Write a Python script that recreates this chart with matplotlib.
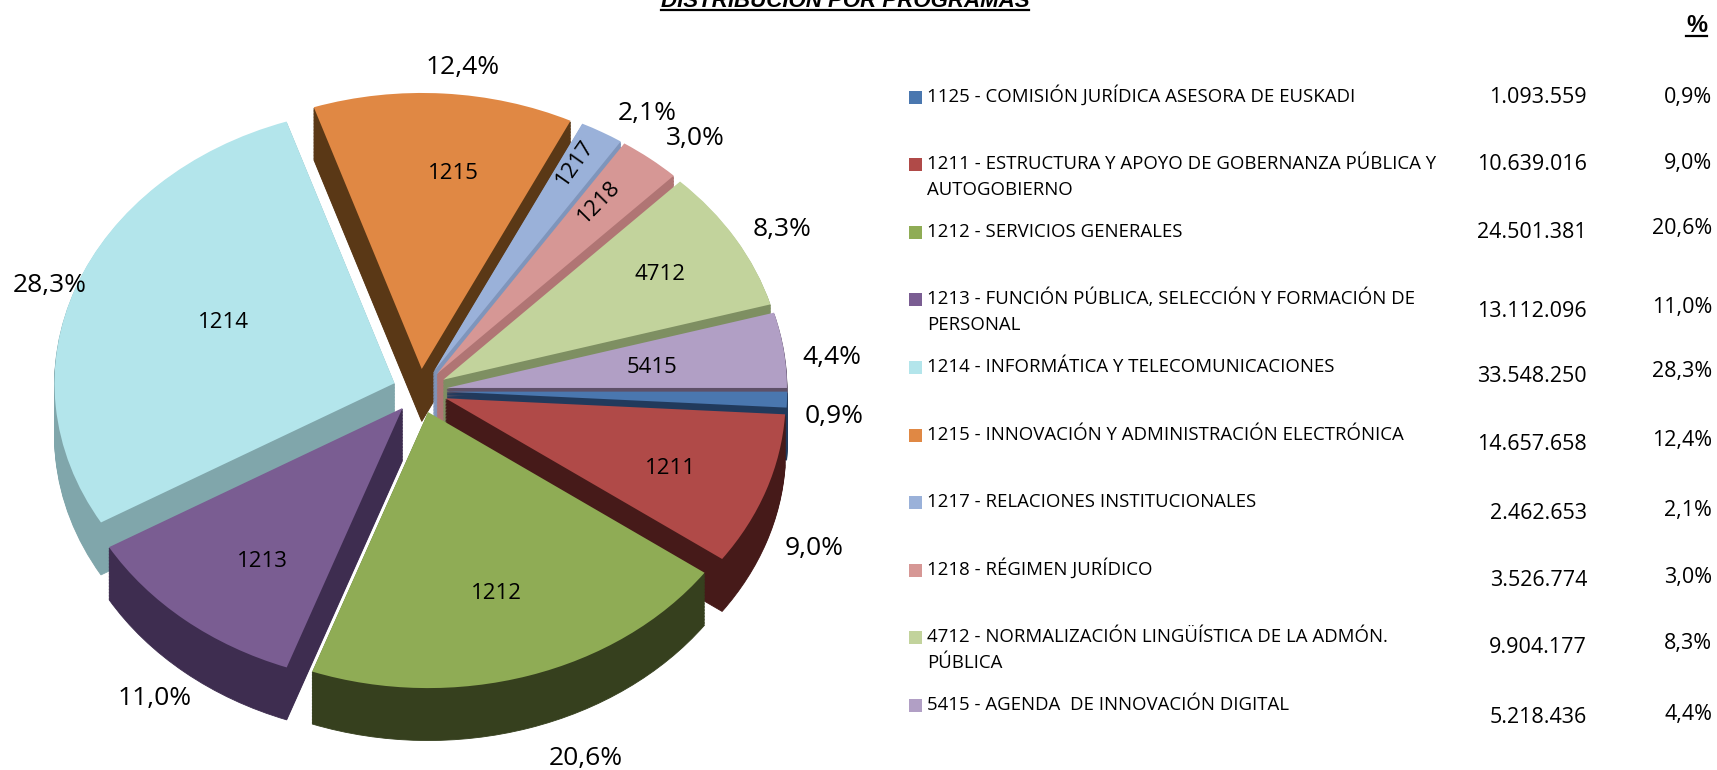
import numpy as np
import matplotlib
matplotlib.use("Agg")
import matplotlib.pyplot as plt
from matplotlib.lines import Line2D
from matplotlib.patches import Rectangle

# ---------------- data ----------------
codes = ['1125', '1211', '1212', '1213', '1214', '1215', '1217', '1218', '4712', '5415']
names = [
    '1125 - COMISIÓN JURÍDICA ASESORA DE EUSKADI',
    '1211 - ESTRUCTURA Y APOYO DE GOBERNANZA PÚBLICA Y\nAUTOGOBIERNO',
    '1212 - SERVICIOS GENERALES',
    '1213 - FUNCIÓN PÚBLICA, SELECCIÓN Y FORMACIÓN DE\nPERSONAL',
    '1214 - INFORMÁTICA Y TELECOMUNICACIONES',
    '1215 - INNOVACIÓN Y ADMINISTRACIÓN ELECTRÓNICA',
    '1217 - RELACIONES INSTITUCIONALES',
    '1218 - RÉGIMEN JURÍDICO',
    '4712 - NORMALIZACIÓN LINGÜÍSTICA DE LA ADMÓN.\nPÚBLICA',
    '5415 - AGENDA  DE INNOVACIÓN DIGITAL',
]
amounts = [1093559, 10639016, 24501381, 13112096, 33548250,
           14657658, 2462653, 3526774, 9904177, 5218436]
top_colors = ['#4A77AF', '#B04A48', '#8FAC55', '#7A5D92', '#B3E5EB',
              '#E08844', '#9AB1D9', '#D69795', '#C2D39C', '#B19FC5']
side_colors = ['#213A5C', '#461A19', '#36401E', '#3E2D50', '#80A6AB',
               '#5A3816', '#7F95BB', '#B07574', '#7E8F62', '#5E5068']
title = 'DISTRIBUCIÓN POR PROGRAMAS'

total = float(sum(amounts))
pct_labels = [f"{v / total * 100:.1f}%".replace('.', ',') for v in amounts]
amount_labels = [f"{v:,}".replace(',', '.') for v in amounts]

# ---------------- layout (pixel canvas 1717x770, y from top) ----------------
W, H, DPI = 1717, 770, 100
CX, CY, RX, RY = 420, 391, 340, 276
DEPTH = 0.19
EXPLODE = 0.08
N_LAYERS = 36
PCT_DIST = 1.15
# pixel nudges of the outside percentage labels (x right, y down)
pct_nudge = [(-4, 11), (0, 24), (42, -10), (2, 3), (21, 11),
             (16, 12), (20, 14), (13, 9), (3, 10), (-2, 10)]
inner_dist = [None, 0.70, 0.68, 0.69, 0.60, 0.72, 0.87, 0.80, 0.75, 0.61]
inner_nudge = [(0, 0), (0, 3), (0, 0), (10, 5), (20, -5),
               (16, 0), (-5, 0), (-8, 0), (-2, -2), (0, 0)]
inner_rotated = [False, False, False, False, False, False, True, True, False, False]

FONT = 'Open Sans'
PCT_FS, CODE_FS, TABLE_FS, NUM_FS = 19, 16, 13.4, 15.5

row_y0, row_step, line_gap = 95, 67.6, 26
val_dy = [0, 0, 0, 11, 9, 9, 11, 10, 9, 12]
pct_dy = [0, -1, -4, 7, 4, 5, 8, 7, 5, 9]
SQ_X, SQ, LBL_X, VAL_X, PCTC_X = 909, 13, 927, 1587, 1712


def em(fs):
    return fs * DPI / 72.0


def fx(x):
    return x / W


def fy(y):
    return 1 - y / H


fig = plt.figure(figsize=(W / DPI, H / DPI), dpi=DPI)
ax = fig.add_axes([0, 0, 1, 1])
explode = [EXPLODE] * len(amounts)

# top faces
top_wedges, _ = ax.pie(amounts, explode=explode, colors=top_colors, startangle=0,
                       counterclock=False, center=(0, 0),
                       wedgeprops=dict(linewidth=0))
mids = [np.deg2rad((w.theta1 + w.theta2) / 2.0) for w in top_wedges]
order = np.argsort([-np.sin(m) for m in mids])  # back to front
rank = {int(i): r for r, i in enumerate(order)}
for w in top_wedges:
    w.set_zorder(5)

# extruded sides
for k in range(N_LAYERS, 0, -1):
    off = -DEPTH * k / N_LAYERS
    ws, _ = ax.pie(amounts, explode=explode, colors=side_colors, startangle=0,
                   counterclock=False, center=(0, off),
                   wedgeprops=dict(linewidth=0.6))
    for i, w in enumerate(ws):
        w.set_edgecolor(side_colors[i])
        w.set_zorder(1 + rank[i] * 0.1)

ax.set_aspect('auto')
ax.set_xlim(-CX / RX, (W - CX) / RX)
ax.set_ylim(-(H - CY) / RY, CY / RY)
ax.axis('off')

# labels on the pie
for i, w in enumerate(top_wedges):
    m = mids[i]
    c, s = np.cos(m), np.sin(m)
    cxw, cyw = w.center
    nx, ny = pct_nudge[i]
    x = cxw + PCT_DIST * c + nx / RX
    y = cyw + PCT_DIST * s - DEPTH * max(0.0, -s) - ny / RY
    ax.text(x, y - 0.36 * em(PCT_FS) / RY, pct_labels[i], ha='center', va='baseline',
            fontsize=PCT_FS, family=FONT, color='black', zorder=10)
    d = inner_dist[i]
    if d is not None:
        ix, iy = inner_nudge[i]
        x = cxw + d * c + ix / RX
        y = cyw + d * s - iy / RY
        if inner_rotated[i]:
            rot = np.degrees(np.arctan2(RY * s, RX * c))
            ax.text(x, y, codes[i], ha='center', va='center', rotation=rot,
                    rotation_mode='anchor', fontsize=CODE_FS, family=FONT,
                    color='black', zorder=10)
        else:
            ax.text(x, y - 0.36 * em(CODE_FS) / RY, codes[i], ha='center', va='baseline',
                    fontsize=CODE_FS, family=FONT, color='black', zorder=10)

# table on the right
for i in range(len(codes)):
    y = row_y0 + i * row_step
    fig.add_artist(Rectangle((fx(SQ_X), fy(y + 2 + SQ / 2)), SQ / W, SQ / H,
                             transform=fig.transFigure, facecolor=top_colors[i],
                             edgecolor='none'))
    for j, line in enumerate(names[i].split('\n')):
        fig.text(fx(LBL_X), fy(y + j * line_gap + 0.36 * em(TABLE_FS)), line,
                 ha='left', va='baseline', fontsize=TABLE_FS, family=FONT, color='black')
    fig.text(fx(VAL_X), fy(y + val_dy[i] + 0.36 * em(NUM_FS)), amount_labels[i],
             ha='right', va='baseline', fontsize=NUM_FS, family=FONT, color='black')
    fig.text(fx(PCTC_X), fy(y + pct_dy[i] + 0.36 * em(NUM_FS)), pct_labels[i],
             ha='right', va='baseline', fontsize=NUM_FS, family=FONT, color='black')

# title (cut at the top, as in the source) and "%" header, both underlined
t_title = fig.text(fx(845), fy(7), title, ha='center', va='baseline', fontsize=16,
                   fontweight='bold', fontstyle='italic', family='Liberation Sans')
t_pct = fig.text(fx(1707), fy(32), '%', ha='right', va='baseline', fontsize=17,
                 fontweight='bold', family='Liberation Sans')
fig.canvas.draw()
r = fig.canvas.get_renderer()
for t, uy in ((t_title, 10), (t_pct, 36)):
    bb = t.get_window_extent(renderer=r)
    fig.add_artist(Line2D([bb.x0 / W, bb.x1 / W], [fy(uy), fy(uy)],
                          transform=fig.transFigure, color='black', linewidth=1.6))

fig.savefig('out.png', dpi=DPI)
